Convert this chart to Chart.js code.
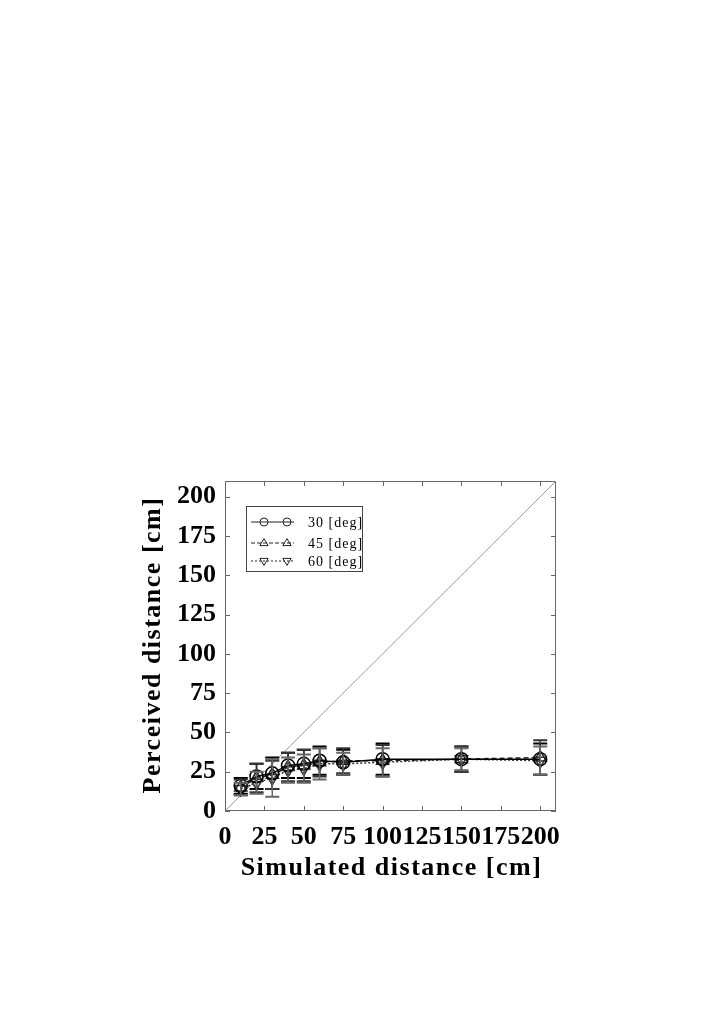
<!DOCTYPE html>
<html>
<head>
<meta charset="utf-8">
<script src="https://cdn.jsdelivr.net/npm/chart.js@4.4.0/dist/chart.umd.min.js"></script>
<style>
  html, body { margin: 0; padding: 0; background: #fff; }
  canvas { display: block; }
</style>
</head>
<body>
<canvas id="distChart" width="702" height="1020"></canvas>
<script>
// simulated distances (x) and perceived distances (y) for three angles
var simulated = [10, 20, 30, 40, 50, 60, 75, 100, 150, 200];
var deg30 = [16, 22, 24, 29, 30, 32, 31, 33, 33, 33];
var deg45 = [15, 21, 23, 28, 29, 31, 32, 32, 33, 34];
var deg60 = [14, 18, 21, 26, 27, 30, 30, 31, 33, 32];
var err30 = [5, 8, 10, 8, 9, 9, 8, 10, 8, 10];
var err45 = [5, 9, 9, 9, 10, 9, 8, 10, 8, 11];
var err60 = [4, 7, 12, 8, 9, 10, 7, 9, 7, 9];
var tickValues = [0, 25, 50, 75, 100, 125, 150, 175, 200];
var identityLine = [0, 210];
var labels = ["30 [deg]", "45 [deg]", "60 [deg]"];

var serif = '"Liberation Serif", "Times New Roman", serif';

function points(ys) {
  return simulated.map(function (x, i) {
    return { x: x, y: ys[i] };
  });
}

// dane do słupków błędów, w tej samej kolejności co serie
var errorSets = [
  { values: deg30, errors: err30, color: "#000" },
  { values: deg45, errors: err45, color: "#333" },
  { values: deg60, errors: err60, color: "#666" },
];

function drawMarker(ctx, style, x, y, r) {
  ctx.beginPath();
  if (style === "circle") {
    ctx.arc(x, y, r, 0, Math.PI * 2);
  } else {
    var dir = style === "up" ? 1 : -1;
    ctx.moveTo(x, y - dir * r * 1.1);
    ctx.lineTo(x + r * 1.05, y + dir * r * 0.65);
    ctx.lineTo(x - r * 1.05, y + dir * r * 0.65);
    ctx.closePath();
  }
  ctx.stroke();
}

var framePlugin = {
  id: "frame",
  beforeDatasetsDraw: function (chart) {
    var ctx = chart.ctx;
    var a = chart.chartArea;
    var xs = chart.scales.x;
    var ys = chart.scales.y;
    ctx.save();
    ctx.strokeStyle = "#666";
    ctx.lineWidth = 1;
    ctx.strokeRect(a.left + 0.5, a.top + 0.5, a.right - a.left - 1, a.bottom - a.top - 1);
    // znaczniki skierowane do środka na wszystkich czterech bokach
    ctx.beginPath();
    tickValues.forEach(function (v) {
      var px = Math.round(xs.getPixelForValue(v)) + 0.5;
      ctx.moveTo(px, a.bottom);
      ctx.lineTo(px, a.bottom - 5);
      ctx.moveTo(px, a.top);
      ctx.lineTo(px, a.top + 5);
      var py = Math.round(ys.getPixelForValue(v)) + 0.5;
      ctx.moveTo(a.left, py);
      ctx.lineTo(a.left + 5, py);
      ctx.moveTo(a.right, py);
      ctx.lineTo(a.right - 5, py);
    });
    ctx.stroke();
    ctx.restore();
  },
  afterDatasetsDraw: function (chart) {
    var ctx = chart.ctx;
    var xs = chart.scales.x;
    var ys = chart.scales.y;
    ctx.save();
    errorSets.forEach(function (set) {
      ctx.strokeStyle = set.color;
      simulated.forEach(function (x, i) {
        var px = xs.getPixelForValue(x);
        var top = ys.getPixelForValue(set.values[i] + set.errors[i]);
        var bottom = ys.getPixelForValue(set.values[i] - set.errors[i]);
        ctx.lineWidth = 1.5;
        ctx.beginPath();
        ctx.moveTo(px, top);
        ctx.lineTo(px, bottom);
        ctx.stroke();
        ctx.lineWidth = 2;
        ctx.beginPath();
        ctx.moveTo(px - 7, top);
        ctx.lineTo(px + 7, top);
        ctx.moveTo(px - 7, bottom);
        ctx.lineTo(px + 7, bottom);
        ctx.stroke();
      });
    });
    ctx.restore();
  },
  afterDraw: function (chart) {
    var ctx = chart.ctx;
    var a = chart.chartArea;
    ctx.save();
    // tytuły osi z rozstrzelonymi literami
    ctx.fillStyle = "#000";
    ctx.font = "bold 26px " + serif;
    ctx.letterSpacing = "1.5px";
    ctx.textAlign = "center";
    ctx.textBaseline = "middle";
    ctx.fillText("Simulated distance [cm]", (a.left + a.right) / 2 + 1, 868);
    ctx.save();
    ctx.translate(153, (a.top + a.bottom) / 2);
    ctx.rotate(-Math.PI / 2);
    ctx.fillText("Perceived distance [cm]", 1, 0);
    ctx.restore();

    // legenda w ramce
    var bx = a.left + 21;
    var by = a.top + 25;
    ctx.strokeStyle = "#444";
    ctx.lineWidth = 1;
    ctx.strokeRect(bx + 0.5, by + 0.5, 116, 65);
    var styles = ["circle", "up", "down"];
    var dashes = [[], [4, 2], [2, 2]];
    ctx.font = "14px " + serif;
    ctx.letterSpacing = "1px";
    ctx.textAlign = "left";
    [16, 37, 55].forEach(function (dy, i) {
      var y = by + dy;
      ctx.strokeStyle = "#222";
      ctx.lineWidth = 1;
      ctx.setLineDash(dashes[i]);
      ctx.beginPath();
      ctx.moveTo(bx + 5, y);
      ctx.lineTo(bx + 48, y);
      ctx.stroke();
      ctx.setLineDash([]);
      ctx.fillStyle = "#fff";
      drawMarker(ctx, styles[i], bx + 18, y, 4);
      drawMarker(ctx, styles[i], bx + 41, y, 4);
      ctx.fillStyle = "#000";
      ctx.fillText(labels[i], bx + 62, y + 1);
    });
    ctx.restore();
  },
};

var tickFont = { family: serif, size: 26, weight: "bold" };

var ctx = document.getElementById("distChart").getContext("2d");
var distChart = new Chart(ctx, {
  type: "line",
  data: {
    datasets: [
      {
        label: labels[0],
        data: points(deg30),
        borderColor: "#000",
        borderWidth: 1.5,
        pointStyle: "circle",
        pointRadius: 6.5,
        pointBorderWidth: 1.5,
        pointBorderColor: "#000",
        pointBackgroundColor: "rgba(255,255,255,0)",
      },
      {
        label: labels[1],
        data: points(deg45),
        borderColor: "#222",
        borderWidth: 1.5,
        borderDash: [5, 3],
        pointStyle: "triangle",
        pointRadius: 7,
        pointBorderWidth: 1.5,
        pointBorderColor: "#222",
        pointBackgroundColor: "rgba(255,255,255,0)",
      },
      {
        label: labels[2],
        data: points(deg60),
        borderColor: "#333",
        borderWidth: 1.5,
        borderDash: [2, 2],
        pointStyle: "triangle",
        pointRotation: 180,
        pointRadius: 7,
        pointBorderWidth: 1.5,
        pointBorderColor: "#333",
        pointBackgroundColor: "rgba(255,255,255,0)",
      },
      {
        label: "y = x",
        data: identityLine.map(function (v) {
          return { x: v, y: v };
        }),
        borderColor: "#999",
        borderWidth: 1,
        pointRadius: 0,
      },
    ],
  },
  options: {
    responsive: false,
    animation: false,
    devicePixelRatio: 1,
    layout: {
      padding: { left: 131, right: 146, top: 481, bottom: 134 },
    },
    plugins: {
      legend: { display: false },
      tooltip: { enabled: false },
    },
    scales: {
      x: {
        type: "linear",
        min: 0,
        max: 210,
        afterBuildTicks: function (scale) {
          scale.ticks = tickValues.map(function (v) {
            return { value: v };
          });
        },
        afterFit: function (scale) {
          scale.height = 75;
        },
        grid: { display: false, drawTicks: false },
        border: { display: false },
        ticks: {
          font: tickFont,
          color: "#000",
          padding: 11,
          maxRotation: 0,
          autoSkip: false,
        },
      },
      y: {
        type: "linear",
        min: 0,
        max: 210,
        afterBuildTicks: function (scale) {
          scale.ticks = tickValues.map(function (v) {
            return { value: v };
          });
        },
        afterFit: function (scale) {
          scale.width = 94;
        },
        grid: { display: false, drawTicks: false },
        border: { display: false },
        ticks: {
          font: tickFont,
          color: "#000",
          padding: 9,
          autoSkip: false,
        },
      },
    },
  },
  plugins: [framePlugin],
});
</script>
</body>
</html>
